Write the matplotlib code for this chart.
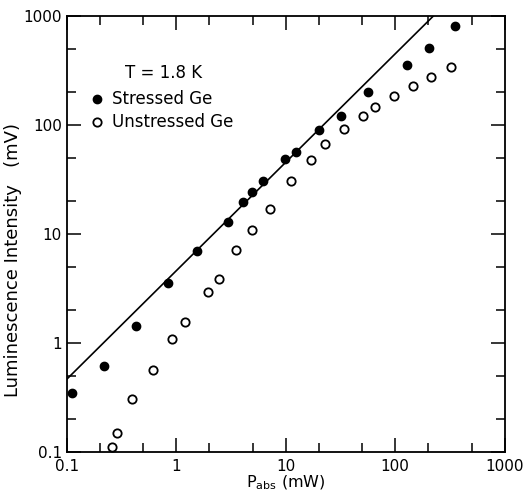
import matplotlib
matplotlib.use("Agg")
import matplotlib.pyplot as plt
from matplotlib.ticker import LogLocator, NullFormatter

# stressed Ge (filled dots)
p_stressed = [0.111, 0.22, 0.427, 0.847, 1.56, 2.95, 4.1, 4.95, 6.2, 9.9, 12.4,
              20.0, 32.0, 56.0, 127, 204, 352]
i_stressed = [0.348, 0.612, 1.43, 3.54, 6.96, 12.8, 19.5, 24.4, 30.6, 49.1, 56.5,
              90.6, 121, 202, 356, 513, 817]

# unstressed Ge (open circles)
p_unstressed = [0.261, 0.29, 0.397, 0.614, 0.916, 1.21, 1.96, 2.44, 3.52, 4.95,
                7.14, 11.2, 17.1, 22.7, 34.0, 50.5, 65.0, 96.8, 146, 212, 324]
i_unstressed = [0.111, 0.148, 0.305, 0.567, 1.09, 1.54, 2.94, 3.85, 7.1, 10.9,
                16.8, 30.4, 48.0, 66.5, 91.5, 122, 146, 184, 228, 276, 341]

# straight fit line through the stressed points
fit_p = [0.1, 250]
fit_i = [0.462, 1120]

tick_vals = [0.1, 1, 10, 100, 1000]
tick_labels = ['0.1', '1', '10', '100', '1000']

fig = plt.figure(figsize=(5.24, 4.95), dpi=100)
ax = fig.add_axes([0.1273, 0.0875, 0.8359, 0.8802])

ax.plot(fit_p, fit_i, color='black', lw=1.2)
ax.plot(p_stressed, i_stressed, 'o', color='black', ms=6, label='Stressed Ge')
ax.plot(p_unstressed, i_unstressed, 'o', mfc='white', mec='black', mew=1.3, ms=6,
        label='Unstressed Ge')

ax.set_xscale('log')
ax.set_yscale('log')
ax.set_xlim(0.1, 1000)
ax.set_ylim(0.1, 1000)

for axis in (ax.xaxis, ax.yaxis):
    axis.set_minor_locator(LogLocator(base=10, subs=(2.0, 5.0)))
    axis.set_minor_formatter(NullFormatter())
ax.set_xticks(tick_vals, tick_labels)
ax.set_yticks(tick_vals, tick_labels)

ax.tick_params(which='both', direction='in', top=True, right=True, labelsize=11,
               width=1.1)
ax.tick_params(which='major', length=10)
ax.tick_params(which='minor', length=6.5)
ax.tick_params(axis='x', which='major', pad=5)
for s in ax.spines.values():
    s.set_linewidth(1.3)

ax.set_xlabel(r'P$_{\rm abs}$ (mW)', fontsize=11.5)
ax.set_ylabel('Luminescence Intensity   (mV)', fontsize=13)
ax.yaxis.set_label_coords(-0.101, 0.44)
ax.xaxis.set_label_coords(0.5, -0.05)

ax.text(0.22, 0.869, 'T = 1.8 K', transform=ax.transAxes, fontsize=12,
        ha='center', va='center')
ax.legend(loc='center left', bbox_to_anchor=(0.055, 0.782), frameon=False,
          fontsize=12, handlelength=0.8, handletextpad=0.5, borderpad=0,
          borderaxespad=0, labelspacing=0.3)

fig.savefig('out.png', dpi=100)
